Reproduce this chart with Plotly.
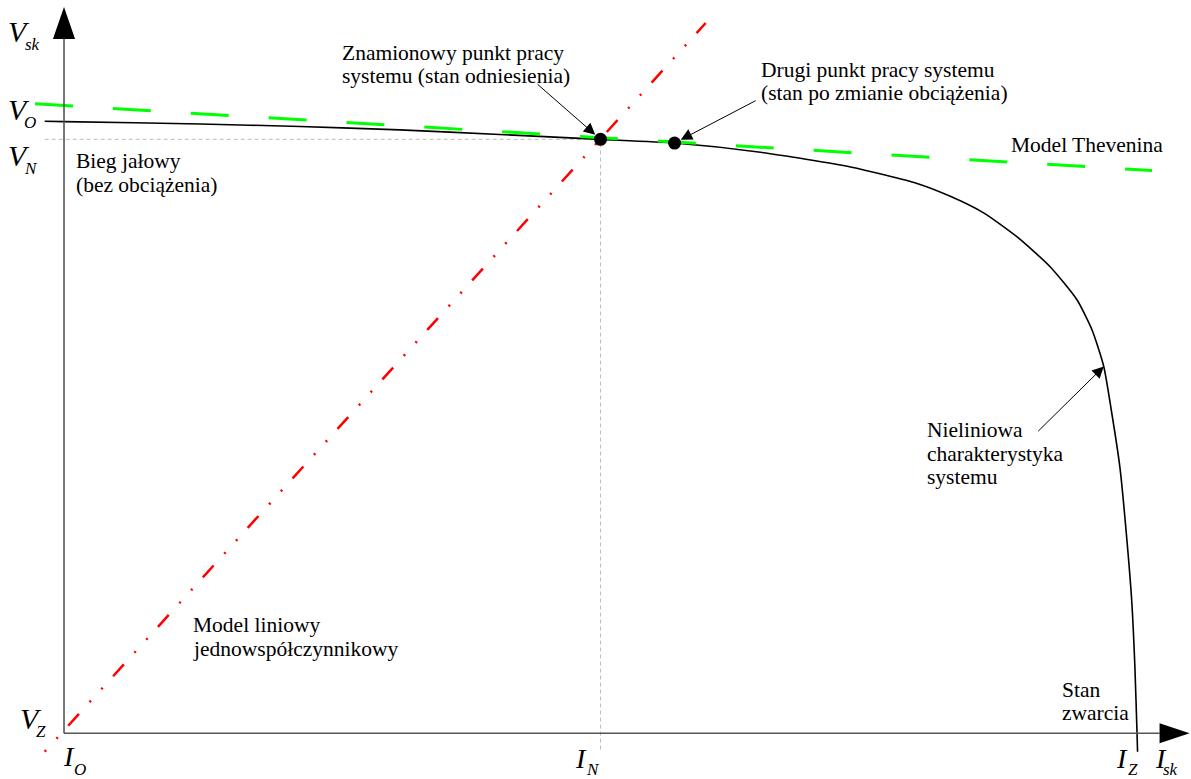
import plotly.graph_objects as go

# ---- data (current I, voltage V; I_Z = 100, V_O = 100) ----
curve_I = [-1.8, 0.0, 12.7, 22.0, 31.3, 40.6, 50.0, 56.9, 64.9, 73.3, 79.5, 82.6,
           85.7, 88.8, 91.9, 94.4, 95.8, 96.9, 97.6, 98.4, 99.0, 99.5, 99.8, 100.0, 100.05]
curve_V = [99.95, 99.9, 99.5, 99.1, 98.55, 97.8, 97.0, 96.4, 94.9, 92.5, 89.8, 87.7,
           85.0, 81.1, 76.2, 70.8, 65.9, 59.9, 52.8, 43.5, 32.7, 21.8, 10.9, 0.0, -3.0]

thevenin_I = [-2.7, 101.4]
thevenin_V = [102.8, 91.9]

linear_I = [-1.8, 59.8]
linear_V = [-3.0, 116.0]

points_I = [50.0, 56.9]      # nominal point, second point
points_V = [97.0, 96.4]

I_N, V_N = points_I[0], points_V[0]
guide_low = -3.0
guide_left = -1.8

# ---- canvas geometry ----
W, H = 1191, 779
X_RANGE = [-5.965, 105.03]
Y_RANGE = [-7.464, 119.76]
SERIF = "Liberation Serif"

fig = go.Figure()

# dotted guides for the nominal point
fig.add_trace(go.Scatter(x=[guide_left, I_N, I_N], y=[V_N, V_N, guide_low], mode="lines",
                         line=dict(color="#bdbdbd", width=1, dash="4px,3px"), hoverinfo="skip"))

# nonlinear characteristic
fig.add_trace(go.Scatter(x=curve_I, y=curve_V, mode="lines",
                         line=dict(color="black", width=1.6, shape="spline", smoothing=0.6),
                         hoverinfo="skip"))

# Thevenin model
fig.add_trace(go.Scatter(x=thevenin_I, y=thevenin_V, mode="lines",
                         line=dict(color="#00ff00", width=3, dash="38px,40px"), hoverinfo="skip"))

# single-coefficient linear model (dot-dot-dash)
fig.add_trace(go.Scatter(x=linear_I, y=linear_V, mode="lines",
                         line=dict(color="#ff0000", width=2.5,
                                   dash="2px,15.5px,2px,15.5px,16px,15.8px"),
                         hoverinfo="skip"))

# operating points
fig.add_trace(go.Scatter(x=points_I, y=points_V, mode="markers",
                         marker=dict(color="black", size=13), hoverinfo="skip"))

# ---- axes with arrow heads ----
axis_col = "#555555"
I_tip, I_base, I_half = 104.9, 102.1, 1.63
V_tip, V_base, V_half = 118.6, 113.4, 1.03
shapes = [
    dict(type="line", xref="x", yref="y", x0=0, y0=0, x1=I_base, y1=0,
         line=dict(color=axis_col, width=1.6)),
    dict(type="line", xref="x", yref="y", x0=0, y0=0, x1=0, y1=V_base,
         line=dict(color=axis_col, width=1.6)),
    dict(type="path", xref="x", yref="y",
         path=f"M {I_base},{-I_half} L {I_tip},0 L {I_base},{I_half} Z",
         fillcolor="black", line=dict(color="black", width=0)),
    dict(type="path", xref="x", yref="y",
         path=f"M {-V_half},{V_base} L 0,{V_tip} L {V_half},{V_base} Z",
         fillcolor="black", line=dict(color="black", width=0)),
]


def text_at(text, px, baseline, size, italic=False):
    """Left-aligned label; px/baseline in canvas pixels."""
    if italic:
        text = f"<i>{text}</i>"
    return dict(text=text, xref="paper", yref="paper",
                x=px / W, y=1 - (baseline - 0.3375 * size) / H,
                xanchor="left", yanchor="middle", showarrow=False, xshift=-2,
                font=dict(family=SERIF, size=size, color="black"))


TXT = 21.5
lines = [
    ("Znamionowy punkt pracy", 341.7, 60.0),
    ("systemu (stan odniesienia)", 341.7, 83.5),
    ("Drugi punkt pracy systemu", 761.0, 77.0),
    ("(stan po zmianie obciążenia)", 761.0, 100.5),
    ("Model Thevenina", 1011.0, 152.0),
    ("Bieg jałowy", 76.0, 168.5),
    ("(bez obciążenia)", 76.0, 192.0),
    ("Nieliniowa", 926.7, 437.5),
    ("charakterystyka", 926.7, 461.0),
    ("systemu", 926.7, 484.5),
    ("Model liniowy", 193.3, 632.0),
    ("jednowspółczynnikowy", 193.3, 656.0),
    ("Stan", 1061.7, 697.0),
    ("zwarcia", 1061.7, 720.5),
]
annotations = [text_at(t, x, b, TXT) for t, x, b in lines]

# axis symbols: (main letter, subscript) with their positions
V_SIZE, I_SIZE, SUB_SIZE = 30, 28, 17
symbols = [
    ("V", 8, 42, "sk", 25, 50, V_SIZE),
    ("V", 8, 120, "O", 24, 128, V_SIZE),
    ("V", 8, 166, "N", 24, 174, V_SIZE),
    ("V", 20, 729, "Z", 36, 737, V_SIZE),
    ("I", 63, 766, "O", 74, 775, I_SIZE),
    ("I", 575, 768, "N", 586, 775, I_SIZE),
    ("I", 1116, 768, "Z", 1128, 775, I_SIZE),
    ("I", 1155, 768, "sk", 1163, 775, I_SIZE),
]
for main, mx, mb, sub, sx, sb, size in symbols:
    annotations.append(text_at(main, mx, mb, size, italic=True))
    annotations.append(text_at(sub, sx, sb, SUB_SIZE, italic=True))

# pointer arrows
arrow_style = dict(xref="x", yref="y", axref="x", ayref="y", text="", showarrow=True,
                   arrowhead=2, arrowsize=2.3, arrowwidth=1, arrowcolor="black")
annotations += [
    dict(x=points_I[0], y=points_V[0], ax=44.0, ay=106.2, standoff=7, **arrow_style),
    dict(x=points_I[1], y=points_V[1], ax=64.6, ay=103.45, standoff=7, **arrow_style),
    dict(x=curve_I[17], y=curve_V[17], ax=90.65, ay=49.1, standoff=0, **arrow_style),
]

fig.update_layout(
    width=W, height=H,
    margin=dict(l=0, r=0, t=0, b=0),
    paper_bgcolor="white", plot_bgcolor="white",
    showlegend=False,
    xaxis=dict(range=X_RANGE, visible=False, fixedrange=True),
    yaxis=dict(range=Y_RANGE, visible=False, fixedrange=True),
    shapes=shapes,
    annotations=annotations,
)

fig.write_html("out.html")
